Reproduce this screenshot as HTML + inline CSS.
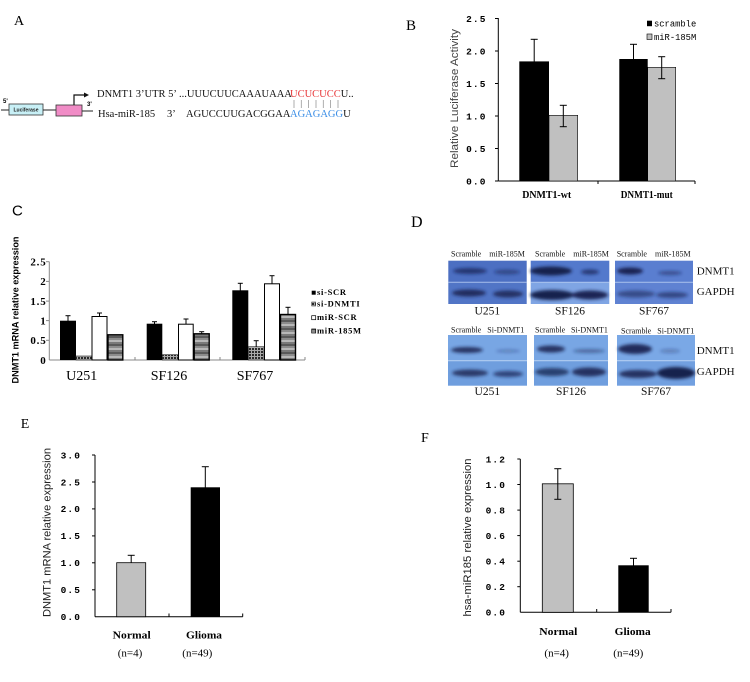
<!DOCTYPE html>
<html><head><meta charset="utf-8"><style>
html,body{margin:0;padding:0;background:#fff;}
svg{display:block;}
.ser{font-family:"Liberation Serif",serif;}
.sans{font-family:"Liberation Sans",sans-serif;}
.mono{font-family:"Liberation Mono",monospace;font-weight:bold;font-size:9.5px;letter-spacing:1.1px;}
</style></head><body>
<svg width="750" height="682" viewBox="0 0 750 682" xmlns="http://www.w3.org/2000/svg">
<defs>
<pattern id="chk" width="3" height="3" patternUnits="userSpaceOnUse"><rect width="3" height="3" fill="#aaa"/><rect width="2" height="2" fill="#2a2a2a"/></pattern>
<pattern id="str" width="10" height="8" patternUnits="userSpaceOnUse"><rect y="0" width="10" height="2" fill="#5a5a5a"/><rect y="2" width="10" height="2" fill="#8c8c8c"/><rect y="4" width="10" height="2" fill="#b8b8b8"/><rect y="6" width="10" height="2" fill="#7a7a7a"/></pattern>
<filter id="bl" x="-50%" y="-100%" width="200%" height="300%"><feGaussianBlur stdDeviation="1.6"/></filter>
</defs>
<rect width="750" height="682" fill="#fff"/>

<!-- ===== Panel A ===== -->
<text x="14" y="25" class="ser" font-size="14">A</text>
<line x1="1" y1="110" x2="9" y2="110" stroke="#222" stroke-width="1"/>
<rect x="9" y="104" width="34" height="11" fill="#c8f0f6" stroke="#333" stroke-width="0.8"/>
<text x="26" y="111.5" class="sans" font-size="5" font-weight="bold" text-anchor="middle" fill="#222">Luciferase</text>
<text x="3" y="103" class="sans" font-size="6" font-weight="bold">5'</text>
<line x1="43" y1="110" x2="56" y2="110" stroke="#222" stroke-width="1"/>
<rect x="56" y="105" width="26" height="11" fill="#f08cc6" stroke="#333" stroke-width="0.8"/>
<line x1="82" y1="111" x2="93" y2="111" stroke="#222" stroke-width="1"/>
<text x="87" y="106" class="sans" font-size="6" font-weight="bold">3'</text>
<polyline points="74,105 74,95 85,95" fill="none" stroke="#111" stroke-width="1.2"/>
<polygon points="84,92.5 89,95 84,97.5" fill="#111"/>
<text y="97" class="ser" font-size="10.5" fill="#111"><tspan x="97">DNMT1 3’UTR 5’</tspan><tspan x="179">...UUUCUUCAAAUAAA</tspan><tspan x="290" fill="#e8383a">UCUCUCC</tspan><tspan>U..</tspan></text>
<text y="117" class="ser" font-size="10.5" fill="#111"><tspan x="98">Hsa-miR-185</tspan><tspan x="167">3’</tspan><tspan x="186">AGUCCUUGACGGAA</tspan><tspan x="290" fill="#3b8ee6">AGAGAGG</tspan><tspan>U</tspan></text>
<g stroke="#999" stroke-width="0.8">
<line x1="294" y1="100" x2="294" y2="108"/><line x1="301.3" y1="100" x2="301.3" y2="108"/><line x1="308.6" y1="100" x2="308.6" y2="108"/><line x1="316" y1="100" x2="316" y2="108"/><line x1="323.3" y1="100" x2="323.3" y2="108"/><line x1="330.6" y1="100" x2="330.6" y2="108"/><line x1="338" y1="100" x2="338" y2="108"/>
</g>

<!-- ===== Panel B ===== -->
<text x="406" y="30" class="ser" font-size="15">B</text>
<g stroke="#000" stroke-width="1">
<line x1="498.3" y1="18" x2="498.3" y2="181"/>
<line x1="498.3" y1="181" x2="695" y2="181"/>
<line x1="495" y1="18.5" x2="498.3" y2="18.5"/><line x1="495" y1="51" x2="498.3" y2="51"/><line x1="495" y1="83.5" x2="498.3" y2="83.5"/><line x1="495" y1="116" x2="498.3" y2="116"/><line x1="495" y1="148.5" x2="498.3" y2="148.5"/><line x1="495" y1="181" x2="498.3" y2="181"/>
<line x1="598" y1="181" x2="598" y2="184"/><line x1="695" y1="181" x2="695" y2="184"/>
</g>
<g class="mono" text-anchor="end">
<text x="486.5" y="21.8">2.5</text><text x="486.5" y="54.3">2.0</text><text x="486.5" y="86.8">1.5</text><text x="486.5" y="119.3">1.0</text><text x="486.5" y="151.8">0.5</text><text x="486.5" y="184.3">0.0</text>
</g>
<text transform="translate(458,98.5) rotate(-90)" class="sans" font-size="11" fill="#444" text-anchor="middle" textLength="139" lengthAdjust="spacingAndGlyphs">Relative Luciferase Activity</text>
<rect x="519.3" y="61.4" width="29.7" height="119.6" fill="#000"/>
<rect x="549" y="115.3" width="28.7" height="65.7" fill="#c0c0c0" stroke="#000" stroke-width="0.6"/>
<rect x="619.3" y="59" width="28.4" height="122" fill="#000"/>
<rect x="647.7" y="67.3" width="28" height="113.7" fill="#c0c0c0" stroke="#000" stroke-width="0.6"/>
<g stroke="#000" stroke-width="1">
<line x1="534.2" y1="39.3" x2="534.2" y2="62"/><line x1="530.7" y1="39.3" x2="537.7" y2="39.3"/>
<line x1="563.3" y1="105.3" x2="563.3" y2="126.7"/><line x1="559.8" y1="105.3" x2="566.8" y2="105.3"/><line x1="559.8" y1="126.7" x2="566.8" y2="126.7"/>
<line x1="633.5" y1="44.3" x2="633.5" y2="60"/><line x1="630" y1="44.3" x2="637" y2="44.3"/>
<line x1="661.7" y1="56.7" x2="661.7" y2="78.7"/><line x1="658.2" y1="56.7" x2="665.2" y2="56.7"/><line x1="658.2" y1="78.7" x2="665.2" y2="78.7"/>
</g>
<text x="546.7" y="198" class="ser" font-size="10" font-weight="bold" text-anchor="middle" textLength="49" lengthAdjust="spacingAndGlyphs">DNMT1-wt</text>
<text x="646.7" y="198" class="ser" font-size="10" font-weight="bold" text-anchor="middle" textLength="52" lengthAdjust="spacingAndGlyphs">DNMT1-mut</text>
<rect x="647" y="20.7" width="5" height="5.5" fill="#000"/>
<text x="654" y="26.5" font-family="Liberation Mono, monospace" font-size="8.8">scramble</text>
<rect x="647" y="34" width="5" height="5.5" fill="#c0c0c0" stroke="#000" stroke-width="0.6"/>
<text x="654" y="40" font-family="Liberation Mono, monospace" font-size="8.8">miR-185M</text>

<!-- ===== Panel C ===== -->
<text x="12" y="215.5" class="sans" font-size="15">C</text>
<g stroke="#888" stroke-width="1">
<line x1="49.3" y1="261.7" x2="49.3" y2="360"/>
<line x1="49.3" y1="360" x2="305" y2="360"/>
<line x1="46" y1="261.7" x2="49.3" y2="261.7"/><line x1="46" y1="281.4" x2="49.3" y2="281.4"/><line x1="46" y1="301.1" x2="49.3" y2="301.1"/><line x1="46" y1="320.6" x2="49.3" y2="320.6"/><line x1="46" y1="340.3" x2="49.3" y2="340.3"/>
<line x1="135" y1="360" x2="135" y2="357"/><line x1="220" y1="360" x2="220" y2="357"/><line x1="305" y1="360" x2="305" y2="357"/>
</g>
<g class="ser" font-size="11" font-weight="bold" text-anchor="end" letter-spacing="0.8">
<text x="46.5" y="265.5">2.5</text><text x="46.5" y="285.2">2</text><text x="46.5" y="304.9">1.5</text><text x="46.5" y="324.4">1</text><text x="46.5" y="344.1">0.5</text><text x="46.5" y="363.8">0</text>
</g>
<text transform="translate(18.5,310) rotate(-90)" class="sans" font-size="9.5" font-weight="bold" text-anchor="middle" textLength="147" lengthAdjust="spacingAndGlyphs">DNMT1 mRNA relative expression</text>
<!-- U251 -->
<rect x="60" y="320.7" width="16" height="39.3" fill="#000"/>
<rect x="76" y="356" width="15.7" height="4" fill="url(#chk)" stroke="#222" stroke-width="0.6"/>
<rect x="92" y="316.5" width="15" height="43.5" fill="#fff" stroke="#000" stroke-width="1"/>
<rect x="108" y="334.8" width="14.8" height="25.2" fill="url(#str)" stroke="#000" stroke-width="1.4"/>
<!-- SF126 -->
<rect x="146.7" y="323.7" width="15.6" height="36.3" fill="#000"/>
<rect x="162.3" y="354.7" width="15.7" height="5.3" fill="url(#chk)" stroke="#222" stroke-width="0.6"/>
<rect x="178.5" y="324.2" width="14.7" height="35.8" fill="#fff" stroke="#000" stroke-width="1"/>
<rect x="194.2" y="333.8" width="15" height="26.2" fill="url(#str)" stroke="#000" stroke-width="1.4"/>
<!-- SF767 -->
<rect x="232.3" y="290.3" width="16" height="69.7" fill="#000"/>
<rect x="248.3" y="346.7" width="15.7" height="13.3" fill="url(#chk)" stroke="#222" stroke-width="0.6"/>
<rect x="264.5" y="283.8" width="15" height="76.2" fill="#fff" stroke="#000" stroke-width="1"/>
<rect x="280.5" y="314.5" width="15" height="45.5" fill="url(#str)" stroke="#000" stroke-width="1.4"/>
<g stroke="#000" stroke-width="1">
<line x1="68" y1="315.7" x2="68" y2="321"/><line x1="65.5" y1="315.7" x2="70.5" y2="315.7"/>
<line x1="99.5" y1="313" x2="99.5" y2="317"/><line x1="97" y1="313" x2="102" y2="313"/>
<line x1="154.5" y1="321.7" x2="154.5" y2="324"/><line x1="152" y1="321.7" x2="157" y2="321.7"/>
<line x1="186" y1="319" x2="186" y2="324"/><line x1="183.5" y1="319" x2="188.5" y2="319"/>
<line x1="201.7" y1="331.7" x2="201.7" y2="334"/><line x1="199.2" y1="331.7" x2="204.2" y2="331.7"/>
<line x1="240.3" y1="283.3" x2="240.3" y2="290.5"/><line x1="237.8" y1="283.3" x2="242.8" y2="283.3"/>
<line x1="256.2" y1="340.7" x2="256.2" y2="347"/><line x1="253.7" y1="340.7" x2="258.7" y2="340.7"/>
<line x1="272" y1="275.7" x2="272" y2="284"/><line x1="269.5" y1="275.7" x2="274.5" y2="275.7"/>
<line x1="288" y1="307.3" x2="288" y2="314.5"/><line x1="285.5" y1="307.3" x2="290.5" y2="307.3"/>
</g>
<g class="ser" font-size="14" text-anchor="middle">
<text x="81.7" y="380">U251</text><text x="169" y="380">SF126</text><text x="255" y="380">SF767</text>
</g>
<rect x="311.7" y="290.7" width="4" height="4" fill="#000"/>
<rect x="311.7" y="302" width="4" height="4" fill="url(#chk)" stroke="#222" stroke-width="0.5"/>
<rect x="311.7" y="315.7" width="4" height="4" fill="#fff" stroke="#000" stroke-width="0.7"/>
<rect x="311.7" y="329" width="4" height="4" fill="url(#str)" stroke="#000" stroke-width="0.7"/>
<g class="ser" font-size="8.5" font-weight="bold" letter-spacing="0.7">
<text x="317" y="295">si-SCR</text><text x="317" y="306.5">si-DNMTI</text><text x="317" y="320">miR-SCR</text><text x="317" y="333.5">miR-185M</text>
</g>

<!-- ===== Panel D ===== -->
<text x="411" y="227" class="ser" font-size="16">D</text>
<rect x="448.3" y="260.7" width="78.4" height="21.6" fill="#4c6fc2"/>
<rect x="448.3" y="282.3" width="78.4" height="21.7" fill="#5175c6"/>
<rect x="530.7" y="260.7" width="78.6" height="21.6" fill="#5379cc"/>
<rect x="530.7" y="282.3" width="78.6" height="21.7" fill="#7fa5e4"/>
<rect x="615" y="260.7" width="78" height="21.6" fill="#5a7ed0"/>
<rect x="615" y="282.3" width="78" height="21.7" fill="#5f82d2"/>
<g stroke="#b8cdf2" stroke-width="1" opacity="0.8">
<line x1="448.3" y1="282.3" x2="526.7" y2="282.3"/><line x1="530.7" y1="282.3" x2="609.3" y2="282.3"/><line x1="615" y1="282.3" x2="693" y2="282.3"/>
</g>
<g fill="#16204e" filter="url(#bl)">
<ellipse cx="470" cy="271" rx="17" ry="3" opacity="0.7"/><ellipse cx="507" cy="272" rx="13" ry="2.5" opacity="0.5"/>
<ellipse cx="469" cy="293" rx="17" ry="3.5" opacity="0.85"/><ellipse cx="508" cy="294" rx="15" ry="3.5" opacity="0.8"/>
<ellipse cx="551" cy="271" rx="21" ry="4.5" opacity="1"/><ellipse cx="590" cy="272" rx="9" ry="2.5" opacity="0.7"/>
<ellipse cx="552" cy="295" rx="22" ry="5" opacity="1"/><ellipse cx="590" cy="295" rx="18" ry="4.5" opacity="0.95"/>
<ellipse cx="630" cy="271" rx="13" ry="3.5" opacity="0.95"/><ellipse cx="670" cy="273" rx="12" ry="2" opacity="0.5"/>
<ellipse cx="636" cy="294" rx="19" ry="3.5" opacity="0.55"/><ellipse cx="672" cy="295" rx="16" ry="3" opacity="0.6"/>
</g>
<rect x="448" y="335" width="79" height="25.7" fill="#78a6e4"/>
<rect x="448" y="360.7" width="79" height="25" fill="#6f9ede"/>
<rect x="534" y="335" width="74" height="25.7" fill="#78a6e4"/>
<rect x="534" y="360.7" width="74" height="25" fill="#6f9ede"/>
<rect x="617" y="335" width="78" height="25.7" fill="#7aa8e6"/>
<rect x="617" y="360.7" width="78" height="25" fill="#72a0e0"/>
<g stroke="#c8dcf6" stroke-width="1" opacity="0.8">
<line x1="448" y1="360.7" x2="527" y2="360.7"/><line x1="534" y1="360.7" x2="608" y2="360.7"/><line x1="617" y1="360.7" x2="695" y2="360.7"/>
</g>
<g fill="#16204e" filter="url(#bl)">
<ellipse cx="467" cy="350" rx="16" ry="3" opacity="0.85"/><ellipse cx="508" cy="351" rx="12" ry="1.5" opacity="0.3"/>
<ellipse cx="470" cy="373" rx="18" ry="3.5" opacity="0.8"/><ellipse cx="508" cy="374" rx="15" ry="3" opacity="0.7"/>
<ellipse cx="551" cy="349" rx="14" ry="3.5" opacity="0.85"/><ellipse cx="589" cy="351" rx="16" ry="2" opacity="0.45"/>
<ellipse cx="552" cy="372" rx="17" ry="4" opacity="0.75"/><ellipse cx="589" cy="372" rx="17" ry="4.5" opacity="0.85"/>
<ellipse cx="635" cy="349" rx="17" ry="5" opacity="0.9"/><ellipse cx="670" cy="351" rx="10" ry="2" opacity="0.3"/>
<ellipse cx="638" cy="374" rx="19" ry="4" opacity="0.85"/><ellipse cx="676" cy="373" rx="19" ry="6" opacity="1"/>
</g>
<g class="ser" font-size="8" fill="#111">
<text x="451" y="256.7">Scramble</text><text x="489.3" y="256.7">miR-185M</text>
<text x="535" y="256.7">Scramble</text><text x="573.3" y="256.7">miR-185M</text>
<text x="616.7" y="256.7">Scramble</text><text x="655" y="256.7">miR-185M</text>
<text x="451" y="332.3">Scramble</text><text x="487.3" y="332.3">Si-DNMT1</text>
<text x="535" y="332.3">Scramble</text><text x="571" y="332.3">Si-DNMT1</text>
<text x="621" y="333.3">Scramble</text><text x="657.3" y="333.3">Si-DNMT1</text>
</g>
<g class="ser" font-size="11" fill="#111">
<text x="696.7" y="274.3">DNMT1</text><text x="696.7" y="295">GAPDH</text>
<text x="696.7" y="354">DNMT1</text><text x="696.7" y="375">GAPDH</text>
</g>
<g class="ser" font-size="11.5" fill="#111" text-anchor="middle">
<text x="487.3" y="314.3">U251</text><text x="570" y="314.3">SF126</text><text x="654" y="314.3">SF767</text>
<text x="487.3" y="395">U251</text><text x="571" y="395">SF126</text><text x="656" y="395">SF767</text>
</g>

<!-- ===== Panel E ===== -->
<text x="20.7" y="428" class="ser" font-size="14">E</text>
<g stroke="#000" stroke-width="1">
<line x1="95" y1="455" x2="95" y2="616.7"/>
<line x1="95" y1="616.7" x2="242.7" y2="616.7"/>
<line x1="92" y1="455" x2="95" y2="455"/><line x1="92" y1="482" x2="95" y2="482"/><line x1="92" y1="508.9" x2="95" y2="508.9"/><line x1="92" y1="535.9" x2="95" y2="535.9"/><line x1="92" y1="562.8" x2="95" y2="562.8"/><line x1="92" y1="589.8" x2="95" y2="589.8"/>
<line x1="169" y1="616.7" x2="169" y2="613.5"/><line x1="242.7" y1="616.7" x2="242.7" y2="613.5"/>
</g>
<g class="mono" text-anchor="end">
<text x="81" y="458.3">3.0</text><text x="81" y="485.3">2.5</text><text x="81" y="512.2">2.0</text><text x="81" y="539.2">1.5</text><text x="81" y="566.1">1.0</text><text x="81" y="593.1">0.5</text><text x="81" y="620">0.0</text>
</g>
<text transform="translate(50.5,532.5) rotate(-90)" class="sans" font-size="11" fill="#222" text-anchor="middle" textLength="169" lengthAdjust="spacingAndGlyphs">DNMT1 mRNA relative expression</text>
<rect x="116.7" y="562.7" width="29" height="54" fill="#c0c0c0" stroke="#000" stroke-width="0.8"/>
<rect x="190.7" y="487.3" width="29.3" height="129.4" fill="#000"/>
<g stroke="#000" stroke-width="1">
<line x1="131.2" y1="555.3" x2="131.2" y2="562.7"/><line x1="127.7" y1="555.3" x2="134.7" y2="555.3"/>
<line x1="205.3" y1="466.7" x2="205.3" y2="488"/><line x1="201.8" y1="466.7" x2="208.8" y2="466.7"/>
</g>
<g class="ser" font-size="11" font-weight="bold" text-anchor="middle">
<text x="131.7" y="638.3" textLength="38" lengthAdjust="spacingAndGlyphs">Normal</text>
<text x="204" y="638.3" textLength="36" lengthAdjust="spacingAndGlyphs">Glioma</text>
</g>
<g class="ser" font-size="11" text-anchor="middle">
<text x="130" y="656.7">(n=4)</text><text x="197.3" y="656.7">(n=49)</text>
</g>

<!-- ===== Panel F ===== -->
<text x="421" y="442" class="ser" font-size="14">F</text>
<g stroke="#000" stroke-width="1">
<line x1="520.3" y1="459" x2="520.3" y2="612.3"/>
<line x1="520.3" y1="612.3" x2="671" y2="612.3"/>
<line x1="517.3" y1="459" x2="520.3" y2="459"/><line x1="517.3" y1="484.5" x2="520.3" y2="484.5"/><line x1="517.3" y1="510.1" x2="520.3" y2="510.1"/><line x1="517.3" y1="535.6" x2="520.3" y2="535.6"/><line x1="517.3" y1="561.2" x2="520.3" y2="561.2"/><line x1="517.3" y1="586.7" x2="520.3" y2="586.7"/>
<line x1="596.7" y1="612.3" x2="596.7" y2="609"/><line x1="671" y1="612.3" x2="671" y2="609"/>
</g>
<g class="mono" text-anchor="end">
<text x="506" y="462.3">1.2</text><text x="506" y="487.8">1.0</text><text x="506" y="513.4">0.8</text><text x="506" y="538.9">0.6</text><text x="506" y="564.5">0.4</text><text x="506" y="590">0.2</text><text x="506" y="615.6">0.0</text>
</g>
<text transform="translate(471,537.5) rotate(-90)" class="sans" font-size="11" fill="#222" text-anchor="middle" textLength="158" lengthAdjust="spacingAndGlyphs">hsa-miR185 relative expression</text>
<rect x="542.3" y="483.8" width="31" height="128.5" fill="#c0c0c0" stroke="#000" stroke-width="0.8"/>
<rect x="618.3" y="565.3" width="30.4" height="47" fill="#000"/>
<g stroke="#000" stroke-width="1">
<line x1="557.8" y1="468.7" x2="557.8" y2="499.3"/><line x1="554.3" y1="468.7" x2="561.3" y2="468.7"/><line x1="554.3" y1="499.3" x2="561.3" y2="499.3"/>
<line x1="633.5" y1="558.3" x2="633.5" y2="566"/><line x1="630" y1="558.3" x2="637" y2="558.3"/>
</g>
<g class="ser" font-size="11" font-weight="bold" text-anchor="middle">
<text x="558.3" y="635" textLength="38" lengthAdjust="spacingAndGlyphs">Normal</text>
<text x="632.7" y="635" textLength="36" lengthAdjust="spacingAndGlyphs">Glioma</text>
</g>
<g class="ser" font-size="11" text-anchor="middle">
<text x="556.7" y="656.7">(n=4)</text><text x="628.3" y="656.7">(n=49)</text>
</g>
</svg>
</body></html>
